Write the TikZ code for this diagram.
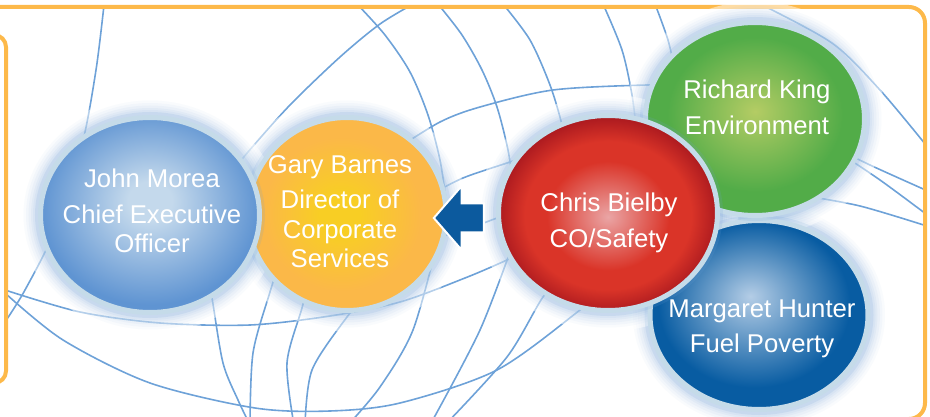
\documentclass[tikz,border=0pt]{standalone}
\usepackage{fontspec}
\setsansfont{Liberation Sans}
\usetikzlibrary{calc,positioning,shapes.geometric,shapes.arrows}
\definecolor{FrameOrange}{RGB}{253,185,74}
\definecolor{GridBlue}{RGB}{110,162,216}
\definecolor{RingBlue}{RGB}{197,219,233}
\definecolor{GlowBlue}{RGB}{110,160,215}
\definecolor{ArrowBlue}{RGB}{12,90,158}
\definecolor{JohnIn}{RGB}{196,217,236}
\definecolor{JohnOut}{RGB}{95,148,210}
\definecolor{GaryIn}{RGB}{248,206,36}
\definecolor{GaryOut}{RGB}{251,184,72}
\definecolor{ChrisIn}{RGB}{234,165,165}
\definecolor{ChrisMid}{RGB}{218,52,40}
\definecolor{ChrisOut}{RGB}{165,22,30}
\definecolor{RichardIn}{RGB}{180,204,100}
\definecolor{RichardOut}{RGB}{82,172,72}
\definecolor{MargaretIn}{RGB}{180,205,230}
\definecolor{MargaretOut}{RGB}{8,92,162}
% ball fillings
\pgfdeclareradialshading{johnball}{\pgfpoint{0bp}{4bp}}{color(0bp)=(JohnIn); color(5bp)=(JohnIn); color(25bp)=(JohnOut); color(50bp)=(JohnOut)}
\pgfdeclareradialshading{garyball}{\pgfpoint{-2bp}{0bp}}{color(0bp)=(GaryIn); color(5bp)=(GaryIn); color(20bp)=(GaryOut); color(50bp)=(GaryOut)}
\pgfdeclareradialshading{chrisball}{\pgfpoint{0bp}{-1bp}}{color(0bp)=(ChrisIn); color(14bp)=(ChrisMid); color(19bp)=(ChrisMid); color(26bp)=(ChrisOut); color(50bp)=(ChrisOut)}
\pgfdeclareradialshading{richardball}{\pgfpoint{0bp}{2bp}}{color(0bp)=(RichardIn); color(20bp)=(RichardOut); color(50bp)=(RichardOut)}
\pgfdeclareradialshading{margaretball}{\pgfpoint{-2bp}{5bp}}{color(0bp)=(MargaretIn); color(22bp)=(MargaretOut); color(50bp)=(MargaretOut)}

\begin{document}
\begin{tikzpicture}[x=1pt, y=-1pt,
       gridline/.style={GridBlue, line width=1.6pt, line cap=round},
       panelframe/.style={draw=FrameOrange, line width=4pt},
       glow/.style 2 args={ellipse, minimum width=#1, minimum height=#2, inner sep=0pt,
                           preaction={draw=white, line width=42pt, draw opacity=0.5},
                           preaction={draw=GlowBlue, line width=34pt, draw opacity=0.04},
                           preaction={draw=GlowBlue, line width=29pt, draw opacity=0.05},
                           preaction={draw=GlowBlue, line width=24pt, draw opacity=0.06},
                           preaction={draw=GlowBlue, line width=19pt, draw opacity=0.07},
                           preaction={draw=GlowBlue, line width=15pt, draw opacity=0.08}},
       person/.style 2 args={ellipse, minimum width=#1, minimum height=#2,
                             inner sep=0pt, draw=RingBlue, line width=5pt, shade,
                             preaction={draw=GlowBlue, line width=11pt, draw opacity=0.15}},
       nametext/.style={text=white, align=center,
                        font=\sffamily\fontsize{25.7}{29.5}\selectfont},
       flowarrow/.style={single arrow, shape border rotate=180,
                         inner xsep=0pt, inner ysep=13.5pt,
                         minimum height=50pt, single arrow head extend=17.5pt,
                         single arrow tip angle=98,
                         fill=ArrowBlue, draw=white, line width=2pt}]
	\clip (0,0) rectangle (930,417);
	%% Web of curves behind the people
	\begin{scope}
		\clip[rounded corners=16pt] (-40,7) rectangle (925,419);
		% long sweeps
		\draw[gridline] plot[smooth] coordinates {(5,290) (80,312) (160,323) (250,325) (330,316) (400,302) (465,278) (507,260) (545,242)};
		\draw[gridline] plot[smooth] coordinates {(5,293) (63,340) (150,383) (255,408) (330,411) (400,403) (497,370) (580,310) (615,280)};
		\draw[gridline] plot[smooth] coordinates {(104,5) (96,70) (82,145) (55,230) (25,290) (5,322)};
		% upper arcs
		\draw[gridline] plot[smooth] coordinates {(230,175) (248,152) (290,105) (340,57) (380,24) (415,3)};
		\draw[gridline] plot[smooth] coordinates {(357,4) (385,35) (410,72) (428,115) (440,160) (446,200)};
		\draw[gridline] plot[smooth] coordinates {(438,4) (462,35) (482,70) (497,107) (508,150) (514,190)};
		\draw[gridline] plot[smooth] coordinates {(503,4) (530,40) (550,85) (562,125) (568,160)};
		\draw[gridline] plot[smooth] coordinates {(603,4) (622,50) (632,95) (637,135)};
		\draw[gridline] plot[smooth] coordinates {(655,4) (668,40) (676,75)};
		\draw[gridline] plot[smooth] coordinates {(395,150) (440,122) (480,107) (553,90) (647,85) (690,86)};
		\draw[gridline] plot[smooth] coordinates {(430,195) (463,178) (507,163) (540,152)};
		\draw[gridline] plot[smooth] coordinates {(430,240) (470,228) (500,217) (530,208)};
		% right hand side
		\draw[gridline] plot[smooth] coordinates {(760,4) (832,43) (880,90) (930,150)};
		\draw[gridline] plot[smooth] coordinates {(830,145) (870,165) (930,192)};
		\draw[gridline] plot[smooth] coordinates {(835,150) (880,180) (930,217)};
		\draw[gridline] plot[smooth] coordinates {(800,195) (860,206) (930,227)};
		% meridians at the bottom
		\draw[gridline] plot[smooth] coordinates {(205,260) (212,298) (223,363) (238,400) (250,425)};
		\draw[gridline] plot[smooth] coordinates {(282,255) (270,292) (253,353) (250,425)};
		\draw[gridline] plot[smooth] coordinates {(312,270) (302,308) (287,363) (294,425)};
		\draw[gridline] plot[smooth] coordinates {(372,288) (347,317) (312,370) (305,425)};
		\draw[gridline] plot[smooth] coordinates {(438,240) (413,330) (380,387) (348,425)};
		\draw[gridline] plot[smooth] coordinates {(515,238) (480,330) (430,425)};
		\draw[gridline] plot[smooth] coordinates {(565,275) (543,297) (507,357) (445,425)};
	\end{scope}
	%% Orange panels
	\draw[panelframe, rounded corners=16pt] (-40,7) rectangle (925,419);
	\draw[panelframe, fill=white, rounded corners=12pt] (-40,35) rectangle (6,383);

	%% Soft halos, all under the balls
	\node[glow={198}{193}] (gary-glow) at (347,214) {};
	\node[glow={219}{195}] (john-glow) at (150,215) {};
	\node[glow={218}{189}] (margaret-glow) at (759,315) {};
	\node[glow={219}{193}] (richard-glow) at (755,119) {};
	\node[glow={219}{195}] (chris-glow) at (608,213) {};

	%% People
	\node[person={198}{193}, shading=garyball] (gary) at (gary-glow) {};
	\node[person={219}{195}, shading=johnball] (john) at (john-glow) {};
	\node[person={218}{189}, shading=margaretball] (margaret) at (margaret-glow) {};
	\node[person={219}{193}, shading=richardball] (richard) at (richard-glow) {};
	\node[person={219}{195}, shading=chrisball] (chris) at (chris-glow) {};

	\node[nametext] (john-name) at ($(john)+(2,-4)$) {John Morea\\[6.5pt]Chief Executive\\Officer};
	\node[nametext] (gary-name) at ($(gary)+(-7,-2.5)$) {Gary Barnes\\[6pt]Director of\\Corporate\\Services};
	\node[nametext] (chris-name) at ($(chris)+(1,10)$) {Chris Bielby\\[6.5pt]CO/Safety};
	\node[nametext] (richard-name) at ($(richard)+(2,-11.5)$) {Richard King\\[6.5pt]Environment};
	\node[nametext] (margaret-name) at ($(margaret)+(3,13.7)$) {Margaret Hunter\\[6pt]Fuel Poverty};

	%% Reporting line
	\node[flowarrow, anchor=tip] (arrow) at ($(gary.east)+(-16,4)$) {};
\end{tikzpicture}
\end{document}
